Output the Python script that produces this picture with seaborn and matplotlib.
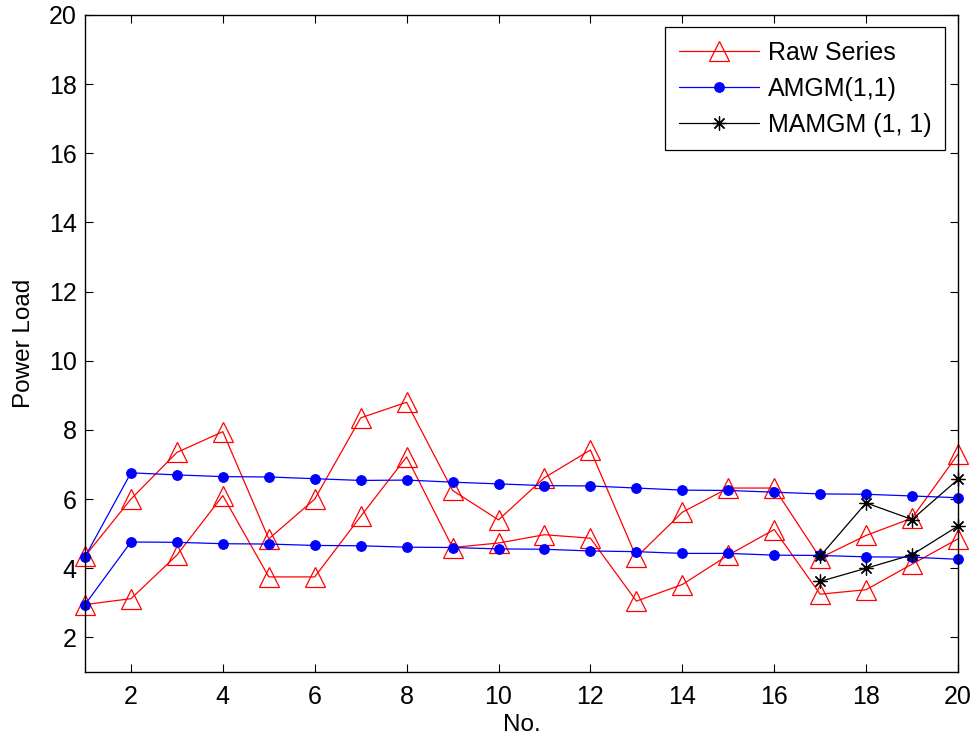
import numpy as np
import pandas as pd
import matplotlib
matplotlib.use('Agg')
import matplotlib.pyplot as plt
import seaborn as sns

sns.set_style('ticks')
plt.rcParams['font.family'] = ['Liberation Sans', 'DejaVu Sans']
plt.rcParams['text.color'] = 'black'
plt.rcParams['axes.labelcolor'] = 'black'

# data
x = list(range(1, 21))
raw_a = [4.35, 6.0, 7.35, 7.95, 4.85, 6.0, 8.35, 8.8, 6.25, 5.4,
         6.62, 7.42, 4.32, 5.62, 6.32, 6.32, 4.3, 4.95, 5.45, 7.3]
raw_b = [2.95, 3.12, 4.38, 6.1, 3.75, 3.75, 5.5, 7.22, 4.6, 4.73,
         4.97, 4.87, 3.05, 3.53, 4.38, 5.12, 3.25, 3.38, 4.12, 4.85]
amgm_a = [4.33, 6.76, 6.70, 6.65, 6.64, 6.59, 6.54, 6.55, 6.49, 6.44,
          6.39, 6.38, 6.32, 6.26, 6.25, 6.20, 6.15, 6.14, 6.09, 6.04]
amgm_b = [2.95, 4.76, 4.75, 4.71, 4.70, 4.66, 4.65, 4.61, 4.60, 4.56,
          4.55, 4.50, 4.48, 4.43, 4.43, 4.38, 4.37, 4.33, 4.32, 4.26]
x_m = [17, 18, 19, 20]
mamgm_a = [4.35, 5.89, 5.41, 6.57]
mamgm_b = [3.62, 4.0, 4.39, 5.22]

fig = plt.figure(figsize=(9.72, 7.40), dpi=100)
ax = fig.add_axes([85/972, 68/740, 873/972, 657/740])

raw_kw = dict(color='red', marker='^', markersize=14, markerfacecolor='none',
              markeredgecolor='red', markeredgewidth=0.9, linewidth=0.9, clip_on=False)
amgm_kw = dict(color='blue', marker='o', markersize=7, markerfacecolor='blue',
               markeredgecolor='blue', linewidth=0.9, clip_on=False)
mamgm_kw = dict(color='black', marker=(8, 2, 0), markersize=10,
                markeredgecolor='black', markeredgewidth=0.9, linewidth=0.9, clip_on=False)

sns.lineplot(x=x, y=raw_a, ax=ax, label='Raw Series', **raw_kw)
sns.lineplot(x=x, y=raw_b, ax=ax, **raw_kw)
sns.lineplot(x=x, y=amgm_a, ax=ax, label='AMGM(1,1)', **amgm_kw)
sns.lineplot(x=x, y=amgm_b, ax=ax, **amgm_kw)
sns.lineplot(x=x_m, y=mamgm_a, ax=ax, label='MAMGM (1, 1)', **mamgm_kw)
sns.lineplot(x=x_m, y=mamgm_b, ax=ax, **mamgm_kw)

ax.set_xlim(1, 20)
ax.set_ylim(1, 20)
ax.set_xticks(range(2, 21, 2))
ax.set_yticks(range(2, 21, 2))
ax.tick_params(direction='in', length=6, width=0.8, top=True, right=True,
               labelsize=18, colors='black')
ax.tick_params(axis='x', pad=9)
ax.tick_params(axis='y', pad=6)
for s in ax.spines.values():
    s.set_visible(True)
    s.set_linewidth(1.0)
    s.set_color('black')
ax.set_xlabel('No.', fontsize=17.5, labelpad=4)
ax.set_ylabel('Power Load', fontsize=17.5, labelpad=10)

leg = ax.legend(loc='upper right', fontsize=18, frameon=True, fancybox=False,
                edgecolor='black', framealpha=1, borderpad=0.55,
                handlelength=3.2, handletextpad=0.35, labelspacing=0.48,
                borderaxespad=0)
leg.set_bbox_to_anchor((1 - 13/873, 1 - 12/657), transform=ax.transAxes)
leg.get_frame().set_linewidth(0.9)

fig.savefig('out.png', dpi=100)
